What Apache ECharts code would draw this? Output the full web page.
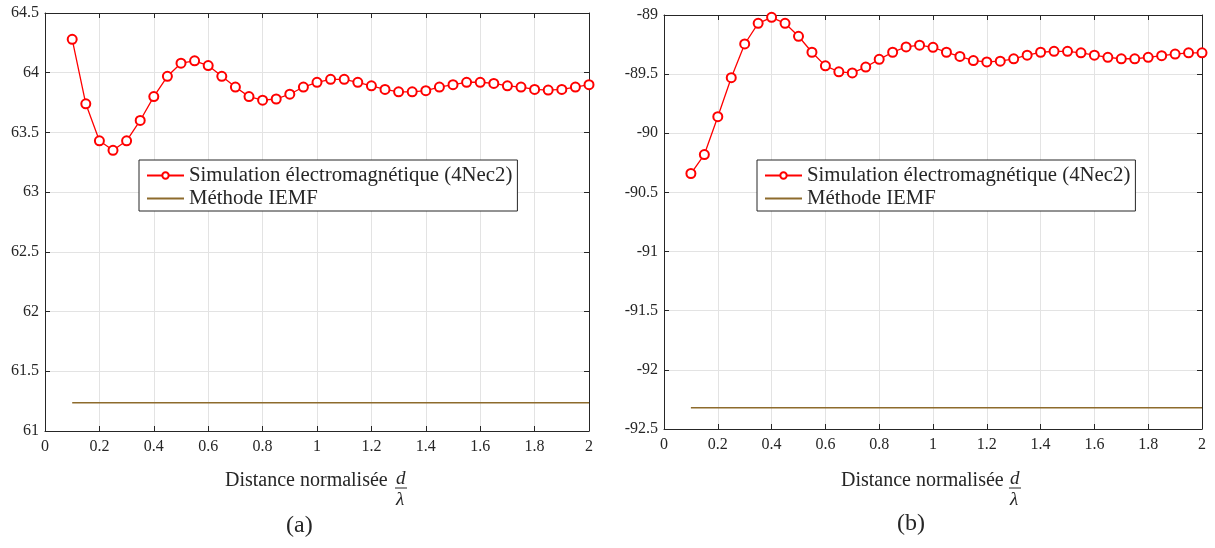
<!DOCTYPE html>
<html>
<head>
<meta charset="utf-8">
<script src="https://cdn.jsdelivr.net/npm/echarts@6/dist/echarts.min.js"></script>
<style>
html,body{margin:0;padding:0;background:#fff;}
#chart{width:1215px;height:548px;}
</style>
</head>
<body>
<div id="chart"></div>
<script>
var xValues = [0.1,0.15,0.2,0.25,0.3,0.35,0.4,0.45,0.5,0.55,0.6,0.65,0.7,0.75,0.8,0.85,0.9,0.95,1.0,1.05,1.1,1.15,1.2,1.25,1.3,1.35,1.4,1.45,1.5,1.55,1.6,1.65,1.7,1.75,1.8,1.85,1.9,1.95,2.0];
var simA = [64.28,63.74,63.43,63.35,63.43,63.60,63.80,63.97,64.08,64.10,64.06,63.97,63.88,63.80,63.77,63.78,63.82,63.88,63.92,63.945,63.945,63.92,63.89,63.86,63.84,63.84,63.85,63.88,63.90,63.92,63.92,63.91,63.89,63.88,63.86,63.855,63.86,63.88,63.90];
var simB = [-90.34,-90.18,-89.86,-89.53,-89.245,-89.07,-89.02,-89.07,-89.18,-89.315,-89.43,-89.48,-89.49,-89.44,-89.375,-89.315,-89.27,-89.255,-89.273,-89.315,-89.35,-89.385,-89.397,-89.39,-89.37,-89.34,-89.315,-89.307,-89.307,-89.32,-89.34,-89.358,-89.37,-89.37,-89.358,-89.344,-89.33,-89.32,-89.32];
var iemfA = 61.237;
var iemfB = -92.32;
var iemfX = [0.1, 2.0];
var seriesNames = ['Simulation électromagnétique (4Nec2)', 'Méthode IEMF'];
var panelLabels = ['(a)', '(b)'];
var xLabel = 'Distance normalisée';

var FONT = '"Liberation Serif", serif';
var AX = '#262626';
var RED = '#ff0000';
var BROWN = '#8d6b2c';

function pairs(xs, ys){ return xs.map(function(x,i){ return [x, ys[i]]; }); }
function constLine(xs, v){ return xs.map(function(x){ return [x, v]; }); }

function xAx(grid, pos){
  return {
    type:'value', gridIndex:grid, position:pos, min:0, max:2, interval:0.2,
    axisLine:{show:true, onZero:false, lineStyle:{color:AX, width:1}},
    axisTick:{show:true, inside:true, length:5, lineStyle:{color:AX}},
    axisLabel:{show: pos==='bottom', color:AX, fontFamily:FONT, fontSize:16, margin:8},
    splitLine:{show: pos==='bottom', lineStyle:{color:'#e3e3e3', width:1}}
  };
}
function yAx(grid, pos, mn, mx){
  return {
    type:'value', gridIndex:grid, position:pos, min:mn, max:mx, interval:0.5,
    axisLine:{show:true, onZero:false, lineStyle:{color:AX, width:1}},
    axisTick:{show:true, inside:true, length:5, lineStyle:{color:AX}},
    axisLabel:{show: pos==='left', color:AX, fontFamily:FONT, fontSize:16, margin:6},
    splitLine:{show: pos==='left', lineStyle:{color:'#e3e3e3', width:1}}
  };
}
function legend(left){
  return {
    orient:'vertical', left:left, top:160,
    data:[
      {name:seriesNames[0]},
      {name:seriesNames[1], itemStyle:{opacity:0}}
    ],
    backgroundColor:'#fff', borderColor:AX, borderWidth:1,
    padding:[5,5,2,7], itemWidth:37, itemHeight:8, itemGap:2,
    textStyle:{fontFamily:FONT, fontSize:20.8, color:AX},
    selectedMode:false
  };
}
function fracGraphics(cx, startX){
  var f = 'px ' + FONT;
  return [
    {type:'text', left:startX, top:471, style:{text:xLabel, font:'20' + f, fill:AX}},
    {type:'text', left:cx-5, top:469, style:{text:'d', font:'italic 19' + f, fill:AX}},
    {type:'line', shape:{x1:cx-6, y1:488, x2:cx+6, y2:488}, style:{stroke:AX, lineWidth:1}},
    {type:'text', left:cx-5, top:490, style:{text:'λ', font:'italic 19' + f, fill:AX}}
  ];
}

var option = {
  animation:false,
  backgroundColor:'#fff',
  grid:[
    {left:45, top:13, width:544, height:418},
    {left:664, top:15, width:538, height:414}
  ],
  xAxis:[xAx(0,'bottom'), xAx(0,'top'), xAx(1,'bottom'), xAx(1,'top')],
  yAxis:[yAx(0,'left',61,64.5), yAx(0,'right',61,64.5), yAx(1,'left',-92.5,-89), yAx(1,'right',-92.5,-89)],
  legend:[legend(139), legend(757)],
  series:[
    {name:seriesNames[0], type:'line', xAxisIndex:0, yAxisIndex:0, data:pairs(xValues, simA),
     symbol:'emptyCircle', symbolSize:9, lineStyle:{color:RED, width:1.3}, itemStyle:{color:RED, borderWidth:1.2}, z:3},
    {name:seriesNames[1], type:'line', xAxisIndex:0, yAxisIndex:0, data:constLine(iemfX, iemfA),
     symbol:'none', lineStyle:{color:BROWN, width:1.5}, itemStyle:{color:BROWN}},
    {name:seriesNames[0], type:'line', xAxisIndex:2, yAxisIndex:2, data:pairs(xValues, simB),
     symbol:'emptyCircle', symbolSize:9, lineStyle:{color:RED, width:1.3}, itemStyle:{color:RED, borderWidth:1.2}, z:3},
    {name:seriesNames[1], type:'line', xAxisIndex:2, yAxisIndex:2, data:constLine(iemfX, iemfB),
     symbol:'none', lineStyle:{color:BROWN, width:1.5}, itemStyle:{color:BROWN}}
  ],
  graphic: [].concat(
    fracGraphics(401, 225),
    fracGraphics(1015, 841),
    [
      {type:'text', left:286, top:514, style:{text:panelLabels[0], font:'24px ' + FONT, fill:AX}},
      {type:'text', left:897, top:512, style:{text:panelLabels[1], font:'24px ' + FONT, fill:AX}}
    ]
  )
};
var chart = echarts.init(document.getElementById('chart'), null, {renderer:'canvas'});
chart.setOption(option);
</script>
</body>
</html>
